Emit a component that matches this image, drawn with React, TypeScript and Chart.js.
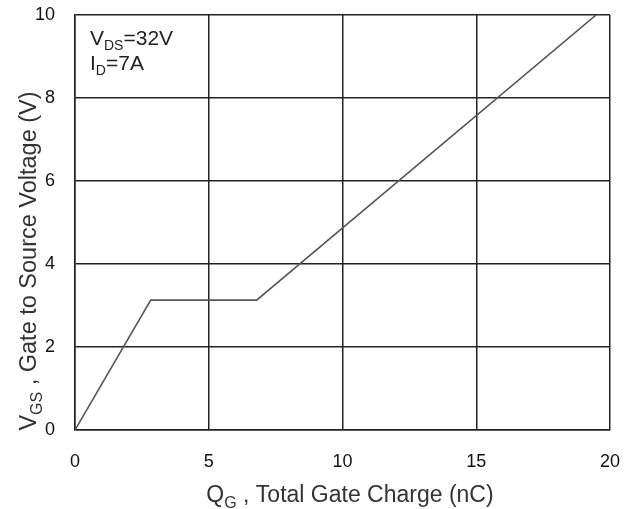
import React, { useEffect, useRef } from "react";
import { Chart, registerables } from "chart.js";

Chart.register(...registerables);

// Gate charge curve (QG in nC, VGS in V)
const chargeNC = [0, 2.83, 6.79, 19.48];
const vgsVolts = [0, 3.13, 3.13, 10];

const xTickValues = [0, 5, 10, 15, 20];
const yTickValues = [0, 2, 4, 6, 8, 10];

const conditionLines = [
  { main: "V", sub: "DS", rest: "=32V" },
  { main: "I", sub: "D", rest: "=7A" },
];
const xTitle = { main: "Q", sub: "G", rest: " , Total Gate Charge (nC)" };
const yTitle = { main: "V", sub: "GS", rest: " , Gate to Source Voltage (V)" };

const FONT = "'Liberation Sans', Arial, sans-serif";

type Rich = { main: string; sub: string; rest: string };

function richWidth(ctx: CanvasRenderingContext2D, t: Rich, size: number) {
  ctx.font = `${size}px ${FONT}`;
  const a = ctx.measureText(t.main).width + ctx.measureText(t.rest).width;
  ctx.font = `${Math.round(size * 0.68)}px ${FONT}`;
  return a + ctx.measureText(t.sub).width;
}

function drawRich(ctx: CanvasRenderingContext2D, t: Rich, x: number, y: number, size: number) {
  ctx.textBaseline = "alphabetic";
  ctx.textAlign = "left";
  ctx.font = `${size}px ${FONT}`;
  ctx.fillText(t.main, x, y);
  let cx = x + ctx.measureText(t.main).width;
  const subSize = Math.round(size * 0.68);
  ctx.font = `${subSize}px ${FONT}`;
  ctx.fillText(t.sub, cx, y + size * 0.25);
  cx += ctx.measureText(t.sub).width;
  ctx.font = `${size}px ${FONT}`;
  ctx.fillText(t.rest, cx, y);
}

const textPlugin = {
  id: "richText",
  afterDraw(chart: any) {
    const ctx: CanvasRenderingContext2D = chart.ctx;
    const area = chart.chartArea;
    ctx.save();
    ctx.fillStyle = "#222";
    // condition text
    conditionLines.forEach((line, i) => {
      drawRich(ctx, line, area.left + 15, area.top + 30 + i * 25, 21);
    });
    // x title
    ctx.fillStyle = "#333";
    const xSize = 23;
    const wx = richWidth(ctx, xTitle, xSize);
    drawRich(ctx, xTitle, 350 - wx / 2, 502, xSize);
    // y title
    const ySize = 23.5;
    const wy = richWidth(ctx, yTitle, ySize);
    ctx.translate(36, 261);
    ctx.rotate(-Math.PI / 2);
    drawRich(ctx, yTitle, -wy / 2, 0, ySize);
    ctx.restore();
  },
};

export default function App() {
  const ref = useRef<HTMLCanvasElement | null>(null);

  useEffect(() => {
    const canvas = ref.current;
    if (!canvas) return;
    const points = chargeNC.map((x, i) => ({ x, y: vgsVolts[i] }));
    const gridColor = "#222";
    const chart = new Chart(canvas, {
      type: "line",
      data: {
        datasets: [
          {
            data: points,
            borderColor: "#555",
            borderWidth: 1.6,
            pointRadius: 0,
            tension: 0,
            fill: false,
          },
        ],
      },
      options: {
        animation: false,
        responsive: false,
        maintainAspectRatio: false,
        layout: { padding: { top: 15, right: 18, left: 0, bottom: 0 } },
        plugins: {
          legend: { display: false },
          tooltip: { enabled: false },
        },
        scales: {
          x: {
            type: "linear",
            min: 0,
            max: 20,
            afterFit: (s: any) => {
              s.height = 79;
              s.paddingLeft = 0;
              s.paddingRight = 0;
              s.paddingTop = 0;
              s.paddingBottom = 0;
            },
            afterBuildTicks: (s: any) => {
              s.ticks = xTickValues.map((v) => ({ value: v }));
            },
            grid: { color: gridColor, lineWidth: 1.5, drawTicks: false },
            border: { display: true, color: gridColor, width: 1.5 },
            ticks: {
              padding: 21,
              color: "#111",
              font: { family: FONT, size: 18 },
              maxRotation: 0,
            },
          },
          y: {
            type: "linear",
            min: 0,
            max: 10,
            afterFit: (s: any) => {
              s.width = 75;
              s.paddingLeft = 0;
              s.paddingRight = 0;
              s.paddingTop = 0;
              s.paddingBottom = 0;
            },
            afterBuildTicks: (s: any) => {
              s.ticks = yTickValues.map((v) => ({ value: v }));
            },
            grid: { color: gridColor, lineWidth: 1.5, drawTicks: false },
            border: { display: true, color: gridColor, width: 1.5 },
            ticks: {
              padding: 20,
              color: "#111",
              font: { family: FONT, size: 18 },
            },
          },
        },
      },
      plugins: [textPlugin],
    });
    return () => chart.destroy();
  }, []);

  return (
    <div style={{ position: "fixed", left: 0, top: 0, width: 628, height: 509, background: "#fff" }}>
      <canvas ref={ref} width={628} height={509} style={{ display: "block" }} />
    </div>
  );
}
